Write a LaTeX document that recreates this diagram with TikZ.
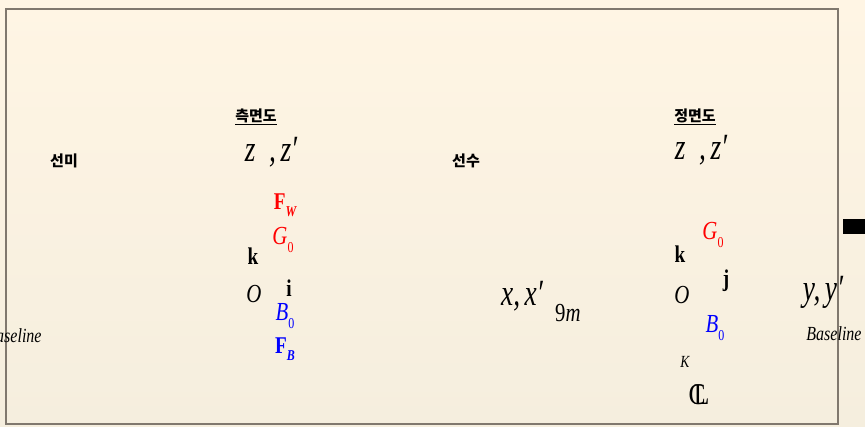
\documentclass[tikz,border=0pt]{standalone}
\usepackage{fontspec}
\setmainfont{Liberation Serif}
\newfontfamily\korfont{Noto Sans CJK KR}
\usetikzlibrary{positioning}
\definecolor{papertop}{RGB}{255,245,228}
\definecolor{paperbot}{RGB}{245,238,222}
\definecolor{framegray}{RGB}{128,120,110}
\newcommand{\fs}[1]{\fontsize{#1}{#1}\selectfont}
\newcommand{\lowsub}[1]{\raisebox{-0.3em}{\fs{15}#1}}
\begin{document}
\begin{tikzpicture}[x=1pt,y=-1pt,
	every node/.style={inner sep=0pt, anchor=center},
	kor/.style={font=\korfont\bfseries\fs{15}},
	big/.style={font=\itshape\fs{37}, xscale=0.74},
	sym/.style={font=\fs{26}, xscale=0.8},
	vec/.style={font=\bfseries\fs{24}, xscale=0.8},
	base/.style={font=\itshape\fs{20}, xscale=0.8}]
	\useasboundingbox (0,0) rectangle (865,427);
	\shade[top color=papertop, bottom color=paperbot] (0,0) rectangle (865,427);
	\draw[framegray, line width=2pt] (6,9) rectangle (838,424);
	\fill[black] (843,219) rectangle (865,234);

	\node[kor] (side) at (256,117) {\underline{측면도}};
	\node[kor] (stern) at (64,161) {선미};
	\node[kor] (bow) at (466,161) {선수};
	\node[kor] (front) at (695,117) {\underline{정면도}};

	\node[big] (zs) at (271,152) {z\enspace,\,z′};
	\node[vec, red] (fw) at (285,205) {F\lowsub{\itshape W}};
	\node[sym, red] (gs) at (283,240) {\textit{G}\lowsub{0}};
	\node[vec] (ks) at (253,256) {k};
	\node[sym] (os) at (254,294) {\textit{O}};
	\node[vec] (is) at (289,288) {i};
	\node[sym, blue] (bs) at (285,316) {\textit{B}\lowsub{0}};
	\node[vec, blue, below=9pt of bs] (fb) {F\lowsub{\itshape B}};
	\node[base] (bl) at (14,336) {Baseline};

	\node[big] (xx) at (522,296) {x,\,x′};
	\node[font=\itshape\fs{26}, xscale=0.8, below right=2pt and 12pt of xx.south east, anchor=west] (len) {\upshape 9\itshape m};

	\node[big] (zf) at (701,150) {z\enspace,\,z′};
	\node[sym, red] (gf) at (713,235) {\textit{G}\lowsub{0}};
	\node[vec] (kf) at (680,254) {k};
	\node[vec] (jf) at (726,281) {j};
	\node[sym] (of) at (682,295) {\textit{O}};
	\node[sym, blue] (bf) at (715,328) {\textit{B}\lowsub{0}};
	\node[font=\itshape\fs{17}, xscale=0.8] (kk) at (685,362) {K};
	\node[font=\fs{30}, xscale=0.85] (cl) at (699,395) {\rlap{C}\kern0.2em L};
	\node[big] (yy) at (823,292) {y,\,y′};
	\node[base] (br) at (834,334) {Baseline};
\end{tikzpicture}
\end{document}
